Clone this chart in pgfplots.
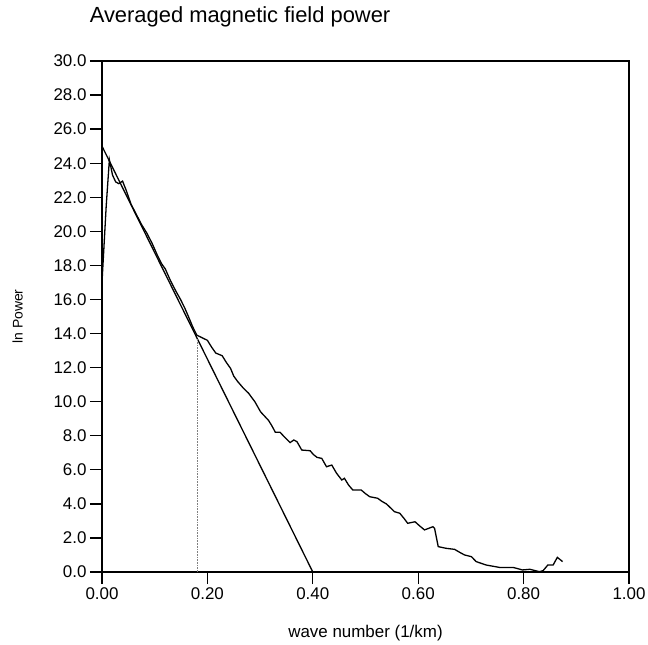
\documentclass[border=0pt]{standalone}
\usepackage{fontspec}
\setmainfont{Liberation Sans}
\usepackage{pgfplots}
\pgfplotsset{compat=1.18}

\begin{document}
\begin{tikzpicture}
% page frame, axis box placed at the origin
\useasboundingbox (-102bp,-73bp) rectangle (546bp,572bp);
\begin{axis}[
    scale only axis,
    width=527bp, height=511bp,
    xmin=0, xmax=1, ymin=0, ymax=30,
    xtick={0,0.2,0.4,0.6,0.8,1.0},
    ytick={0,2,...,30},
    xtick pos=bottom, ytick pos=left,
    tick align=outside,
    major tick length=12bp,
    tick style={line width=1.3pt, black},
    axis line style={line width=1.3pt},
    /pgf/number format/assume math mode=true,
    xticklabel style={font=\fontsize{17}{19}\selectfont, /pgf/number format/.cd, fixed, fixed zerofill, precision=2},
    yticklabel style={font=\fontsize{17}{19}\selectfont, /pgf/number format/.cd, fixed, fixed zerofill, precision=1},
    title={Averaged magnetic field power},
    title style={font=\fontsize{22}{25}\selectfont, at={(axis description cs:0.262,1.074)}, anchor=center},
    xlabel={wave number (1/km)},
    xlabel style={font=\fontsize{17}{19}\selectfont, at={(axis description cs:0.5,-0.119)}, anchor=center},
    ylabel={ln Power},
    ylabel style={font=\fontsize{14}{16}\selectfont, at={(axis description cs:-0.16,0.5)}, anchor=center, rotate=0},
    clip=false,
]
% measured spectrum
\addplot[black, line width=1.3pt] coordinates {
(0.000,17.0) (0.008,21.5) (0.014,24.2) (0.020,23.3) (0.026,22.9) (0.032,22.8)
(0.039,22.95) (0.046,22.4) (0.055,21.6) (0.065,21.0) (0.075,20.4) (0.085,19.9)
(0.095,19.3) (0.105,18.6) (0.113,18.1) (0.120,17.8) (0.130,17.1) (0.140,16.5)
(0.149,16.0) (0.157,15.5) (0.164,15.0) (0.172,14.4) (0.180,13.9) (0.187,13.8)
(0.200,13.6) (0.208,13.2) (0.216,12.85) (0.228,12.7) (0.236,12.3) (0.244,11.95)
(0.250,11.5) (0.257,11.2) (0.268,10.8) (0.278,10.5) (0.290,10.0) (0.301,9.4)
(0.310,9.1) (0.316,8.9) (0.322,8.6) (0.329,8.2) (0.338,8.2) (0.347,7.9)
(0.357,7.6) (0.364,7.75) (0.370,7.65) (0.379,7.16) (0.395,7.12) (0.401,6.9)
(0.408,6.73) (0.417,6.67) (0.426,6.18) (0.436,6.28) (0.445,5.8) (0.455,5.4)
(0.460,5.5) (0.468,5.1) (0.476,4.81) (0.492,4.81) (0.500,4.6) (0.508,4.42)
(0.523,4.33) (0.531,4.15) (0.540,3.99) (0.548,3.75) (0.555,3.54) (0.565,3.45)
(0.573,3.15) (0.580,2.86) (0.594,2.95) (0.603,2.7) (0.612,2.47) (0.628,2.66)
(0.631,2.57) (0.638,1.49) (0.653,1.39) (0.669,1.33) (0.679,1.15) (0.688,1.00)
(0.701,0.90) (0.710,0.61) (0.729,0.41) (0.754,0.27) (0.780,0.27) (0.798,0.12)
(0.812,0.16) (0.830,0.02) (0.837,0.08) (0.846,0.41) (0.856,0.41) (0.864,0.86)
(0.874,0.61)
};
% linear fit
\addplot[black, line width=1.3pt] coordinates {(0.0,25.0) (0.40,0.0)};
% break point
\addplot[gray, densely dotted, line width=0.6pt] coordinates {(0.181,0.0) (0.181,13.8)};
\end{axis}
\end{tikzpicture}
\end{document}
